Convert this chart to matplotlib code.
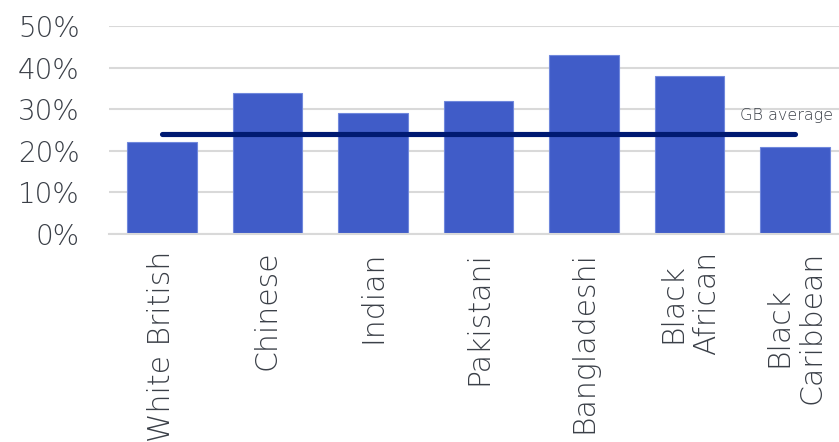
import numpy as np
import matplotlib.pyplot as plt
from matplotlib.ticker import PercentFormatter

# share by ethnic group vs GB average
grupos = ['White British', 'Chinese', 'Indian', 'Pakistani', 'Bangladeshi',
          'Black\nAfrican', 'Black\nCaribbean']
valores = [0.22, 0.34, 0.29, 0.32, 0.43, 0.38, 0.21]
media_gb = 0.24

cor_texto = '#3a3f47'
plt.rcParams['font.family'] = 'DejaVu Sans'
plt.rcParams['font.weight'] = 'light'

fig = plt.figure(figsize=(8.39, 4.42), dpi=100)
ax = fig.add_axes([109/839, 208/442, 739/839, 208/442])

x = np.arange(len(grupos))
ax.bar(x, valores, width=0.66, color='#405cc8', edgecolor='#7088dc', linewidth=0.8, zorder=2)

# linha da media
ax.plot([x[0], x[-1]], [media_gb, media_gb], color='#001a72', linewidth=3.7,
        solid_capstyle='round', zorder=3)
ax.text(5.48, 0.284, 'GB average', fontsize=11.5, color=cor_texto, va='center', ha='left')

ax.set_xlim(-0.5, 6.5)
ax.set_ylim(0, 0.5)
ax.set_yticks(np.arange(0, 0.51, 0.1))
ax.yaxis.set_major_formatter(PercentFormatter(1.0, decimals=0))
ax.grid(axis='y', color='#d9d9d9', linewidth=1.5, zorder=0)
ax.set_axisbelow(True)

ax.set_xticks(x)
ax.set_xticklabels(grupos, rotation=90, va='top', ha='center', linespacing=1.2)
ax.tick_params(axis='both', length=0, labelcolor=cor_texto)
ax.tick_params(axis='x', pad=12, labelsize=21.5)
ax.tick_params(axis='y', pad=21, labelsize=20)

for s in ['top', 'right', 'left']:
    ax.spines[s].set_visible(False)
ax.spines['bottom'].set_color('#d9d9d9')
ax.spines['bottom'].set_linewidth(1.5)

plt.savefig('out.png', dpi=100)
